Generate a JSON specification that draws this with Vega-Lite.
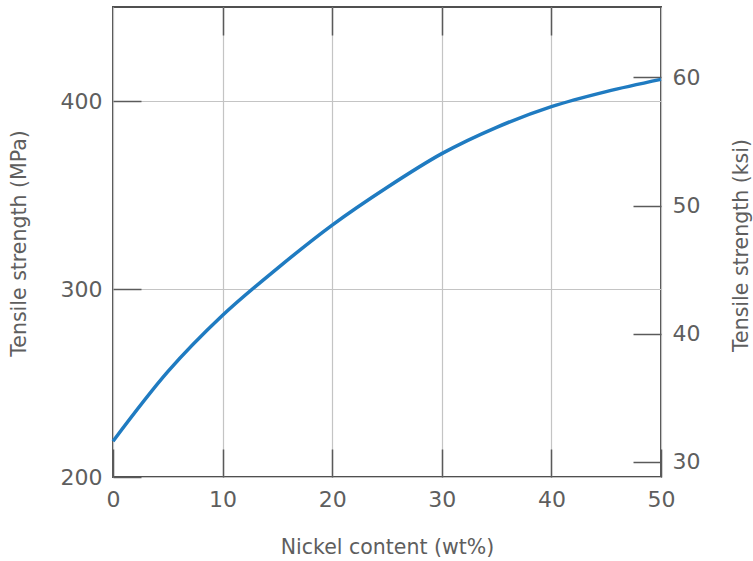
{
  "$schema": "https://vega.github.io/schema/vega-lite/v6.json",
  "width": 548,
  "height": 470,
  "autosize": "none",
  "padding": {"left": 113, "top": 7, "right": 92, "bottom": 84},
  "background": "white",
  "config": {
    "view": {"stroke": "#505050", "strokeWidth": 2},
    "axis": {
      "labelFont": "DejaVu Sans",
      "titleFont": "DejaVu Sans",
      "labelFontSize": 22,
      "titleFontSize": 20.5,
      "labelColor": "#5e5e5e",
      "titleColor": "#5e5e5e",
      "titleFontWeight": "normal",
      "labelFlush": false,
      "domain": false,
      "tickColor": "#5a5a5a",
      "tickWidth": 1.5,
      "gridColor": "#c4c4c4",
      "gridWidth": 1.2
    }
  },
  "layer": [
    {
      "data": {
        "values": [
          {"ni": 0, "mpa": 219},
          {"ni": 5, "mpa": 256},
          {"ni": 10, "mpa": 286},
          {"ni": 15, "mpa": 311},
          {"ni": 20, "mpa": 334},
          {"ni": 25, "mpa": 354},
          {"ni": 30, "mpa": 372},
          {"ni": 35, "mpa": 386},
          {"ni": 40, "mpa": 397},
          {"ni": 45, "mpa": 405},
          {"ni": 50, "mpa": 411.5}
        ]
      },
      "mark": {"type": "line", "interpolate": "monotone", "color": "#1f7bc1", "strokeWidth": 3.5},
      "encoding": {
        "x": {
          "field": "ni", "type": "quantitative",
          "scale": {"domain": [0, 50], "nice": false},
          "axis": {
            "orient": "bottom", "values": [0, 10, 20, 30, 40, 50],
            "grid": true, "tickSize": -28, "labelPadding": 40,
            "title": "Nickel content (wt%)",
            "titleX": 274, "titleY": 70, "titleBaseline": "middle", "titleAlign": "center"
          }
        },
        "y": {
          "field": "mpa", "type": "quantitative",
          "scale": {"domain": [200, 450], "nice": false, "zero": false},
          "axis": {
            "orient": "left", "values": [200, 300, 400],
            "grid": true, "tickSize": -28, "labelPadding": 39,
            "title": "Tensile strength (MPa)",
            "titleAngle": -90, "titleX": -94, "titleY": 236,
            "titleBaseline": "middle", "titleAlign": "center"
          }
        }
      }
    },
    {
      "data": {
        "values": [
          {"ni": 0, "ksi": 28.8},
          {"ni": 50, "ksi": 65.5}
        ]
      },
      "mark": {"type": "point", "opacity": 0},
      "encoding": {
        "x": {
          "field": "ni", "type": "quantitative",
          "axis": {
            "orient": "top", "values": [10, 20, 30, 40],
            "grid": false, "labels": false, "tickSize": -28, "title": null
          }
        },
        "y": {
          "field": "ksi", "type": "quantitative",
          "scale": {"domain": [28.8, 65.5], "nice": false, "zero": false},
          "axis": {
            "orient": "right", "values": [30, 40, 50, 60],
            "grid": false, "tickSize": -28, "labelPadding": 39,
            "title": "Tensile strength (ksi)",
            "titleAngle": -90, "titleX": 80, "titleY": 238,
            "titleBaseline": "middle", "titleAlign": "center"
          }
        }
      }
    }
  ],
  "resolve": {"scale": {"y": "independent"}, "axis": {"x": "independent"}}
}
